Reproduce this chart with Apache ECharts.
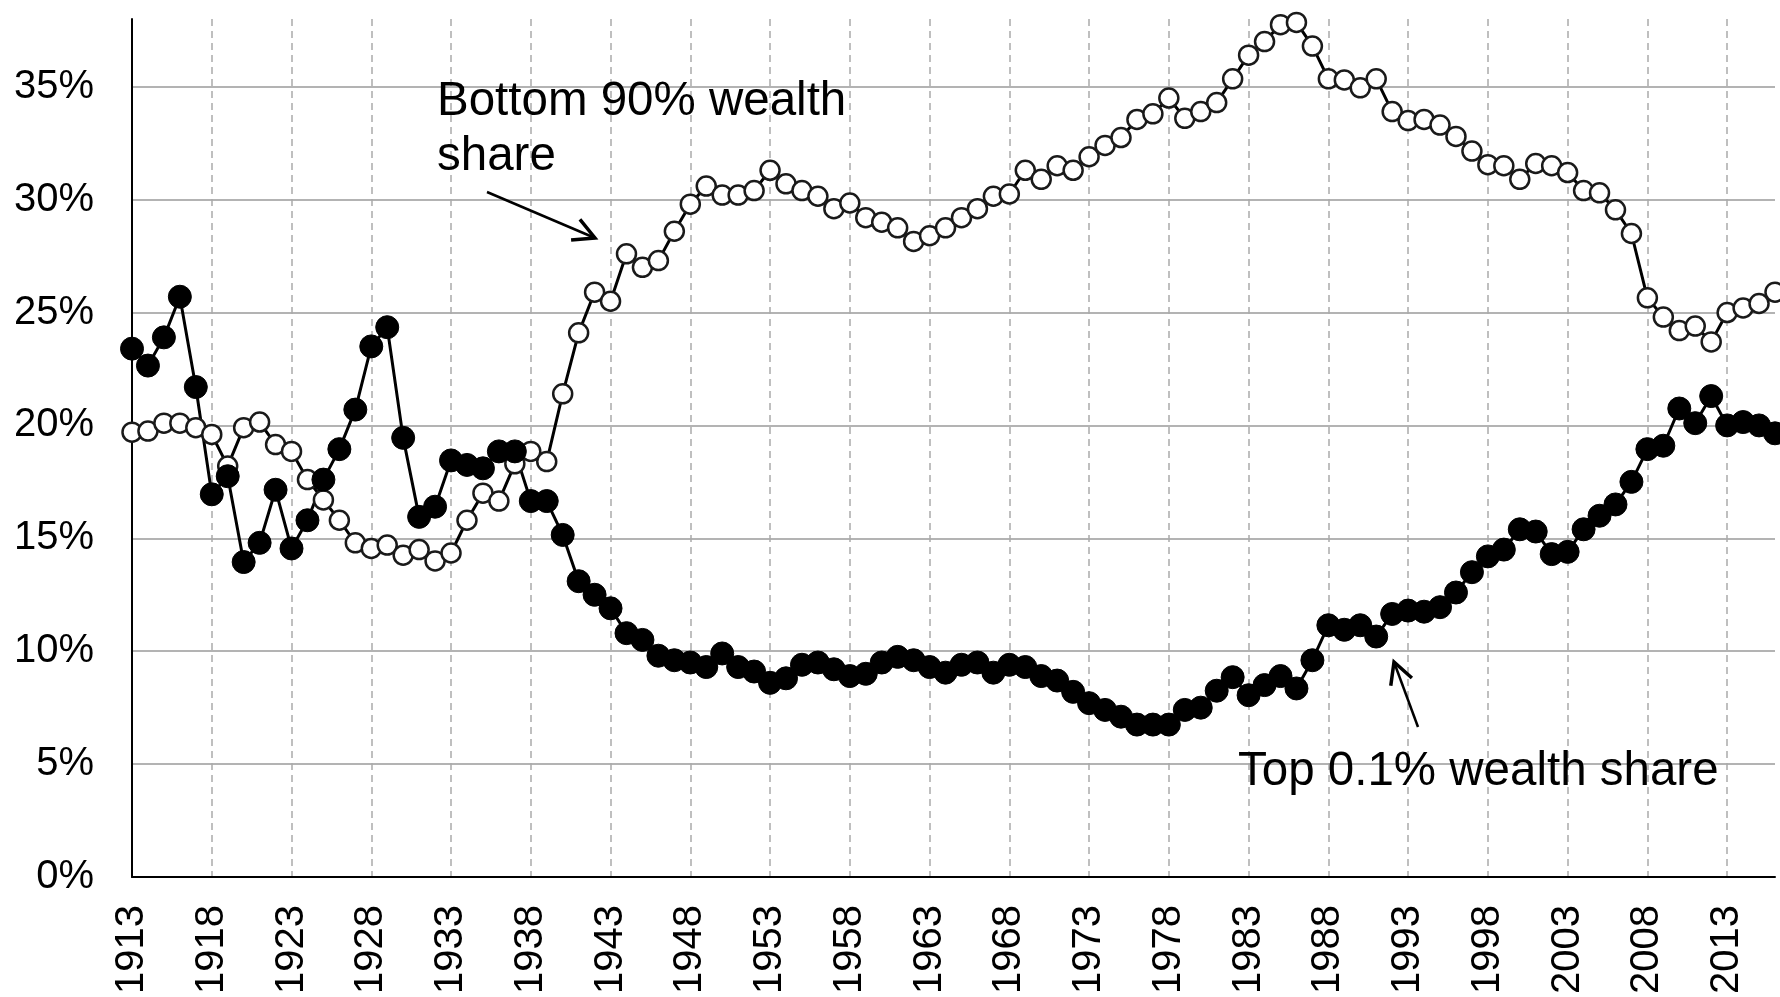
<!DOCTYPE html>
<html>
<head>
<meta charset="utf-8">
<title>Top 0.1% vs bottom 90% wealth share</title>
<script src="https://cdn.jsdelivr.net/npm/echarts@6/dist/echarts.min.js"></script>
<style>
  html, body { margin: 0; padding: 0; background: #fff; }
  #chart { width: 1780px; height: 997px; }
</style>
</head>
<body>
<div id="chart"></div>
<script>
// ─── data (share of total household wealth, %) ───────────────────────────────

// one category per year, 1913 … 2016
const years = [];
for (let y = 1913; y <= 2016; y++) years.push(String(y));

const top01Share = [
  23.4, 22.65, 23.9, 25.7, 21.7, 16.95, 17.75, 13.95, 14.8, 17.15,   // 1913-1922
  14.55, 15.8, 17.6, 18.95, 20.7, 23.5, 24.35, 19.45, 15.95, 16.4,   // 1923-1932
  18.45, 18.25, 18.1, 18.85, 18.85, 16.65, 16.65, 15.15, 13.1, 12.5, // 1933-1942
  11.9, 10.8, 10.5, 9.8, 9.6, 9.5, 9.3, 9.9, 9.3, 9.1,               // 1943-1952
  8.6, 8.8, 9.4, 9.5, 9.2, 8.9, 9.0, 9.5, 9.75, 9.6,                 // 1953-1962
  9.3, 9.05, 9.4, 9.5, 9.05, 9.4, 9.3, 8.9, 8.7, 8.2,                // 1963-1972
  7.7, 7.4, 7.1, 6.75, 6.75, 6.75, 7.4, 7.5, 8.25, 8.85,             // 1973-1982
  8.05, 8.5, 8.9, 8.35, 9.6, 11.15, 10.95, 11.15, 10.65, 11.65,      // 1983-1992
  11.8, 11.75, 11.95, 12.6, 13.5, 14.2, 14.5, 15.4, 15.3, 14.3,      // 1993-2002
  14.4, 15.4, 16.0, 16.5, 17.5, 18.95, 19.1, 20.75, 20.1, 21.3,      // 2003-2012
  20.0, 20.15, 20.0, 19.65                                           // 2013-2016
];

const bottom90Share = [
  19.7, 19.75, 20.1, 20.1, 19.9, 19.6, 18.2, 19.9, 20.15, 19.15,     // 1913-1922
  18.85, 17.6, 16.7, 15.8, 14.8, 14.55, 14.7, 14.25, 14.5, 14.0,     // 1923-1932
  14.35, 15.8, 17.0, 16.65, 18.3, 18.85, 18.4, 21.4, 24.1, 25.9,     // 1933-1942
  25.5, 27.6, 27.0, 27.3, 28.6, 29.8, 30.6, 30.2, 30.2, 30.4,        // 1943-1952
  31.3, 30.7, 30.4, 30.15, 29.6, 29.85, 29.2, 29.0, 28.75, 28.15,    // 1953-1962
  28.4, 28.75, 29.2, 29.6, 30.15, 30.25, 31.3, 30.9, 31.5, 31.3,     // 1963-1972
  31.9, 32.4, 32.75, 33.55, 33.8, 34.5, 33.6, 33.9, 34.3, 35.35,     // 1973-1982
  36.4, 37.0, 37.75, 37.85, 36.8, 35.35, 35.3, 34.95, 35.35, 33.9,   // 1983-1992
  33.5, 33.55, 33.3, 32.8, 32.15, 31.55, 31.5, 30.9, 31.6, 31.5,     // 1993-2002
  31.2, 30.4, 30.3, 29.55, 28.5, 25.65, 24.8, 24.2, 24.4, 23.7,      // 2003-2012
  25.0, 25.2, 25.4, 25.9                                             // 2013-2016
];

const yMax = 38;
const yStep = 5;

// ─── styling ────────────────────────────────────────────────────────────────

const FONT = "'Liberation Sans', Arial, Helvetica, sans-serif";

// straight arrow with an open "V" head at (x2, y2)
function arrow(x1, y1, x2, y2) {
  const len = 24, spread = 28 * Math.PI / 180;
  const back = Math.atan2(y1 - y2, x1 - x2);
  const arm = (a) => [x2 + len * Math.cos(a), y2 + len * Math.sin(a)];
  return [
    { type: 'line', z: 100, shape: { x1, y1, x2, y2 }, style: { stroke: '#000', lineWidth: 2.5 } },
    {
      type: 'polyline',
      z: 100,
      shape: { points: [arm(back + spread), [x2, y2], arm(back - spread)] },
      style: { stroke: '#000', lineWidth: 3.5, fill: null, lineJoin: 'miter' },
    },
  ];
}

function note(x, y, text) {
  return {
    type: 'text',
    z: 100,
    x,
    y,
    style: {
      text,
      font: `47.5px ${FONT}`,
      lineHeight: 55,
      fill: '#000',
      verticalAlign: 'top',
    },
  };
}

const chart = echarts.init(document.getElementById('chart'), null, { renderer: 'canvas' });

chart.setOption({
  backgroundColor: '#fff',
  animation: false,
  textStyle: { fontFamily: FONT, color: '#000' },
  grid: { left: 132, right: 5, top: 19, bottom: 120, containLabel: false },
  xAxis: {
    type: 'category',
    data: years,
    boundaryGap: false,
    axisLine: { lineStyle: { color: '#000', width: 2 } },
    axisTick: { show: false },
    axisLabel: {
      interval: 4,
      rotate: 90,
      margin: 28,
      fontSize: 40,
      color: '#000',
      fontFamily: FONT,
    },
    splitLine: {
      show: true,
      interval: 4,
      lineStyle: { color: '#ababab', width: 1.5, type: [7, 5] },
    },
  },
  yAxis: {
    type: 'value',
    min: 0,
    max: yMax,
    interval: yStep,
    axisLine: { show: true, lineStyle: { color: '#000', width: 2 } },
    axisTick: { show: false },
    axisLabel: {
      margin: 38,
      fontSize: 40,
      color: '#000',
      fontFamily: FONT,
      formatter: (v) => (v % yStep === 0 ? v + '%' : ''),
    },
    splitLine: {
      show: true,
      showMaxLine: false,
      lineStyle: { color: '#b3b3b3', width: 2 },
    },
  },
  series: [
    {
      name: 'Bottom 90% wealth share',
      type: 'line',
      data: bottom90Share,
      showAllSymbol: true,
      symbol: 'circle',
      symbolSize: 19,
      itemStyle: { color: '#fff', borderColor: '#1a1a1a', borderWidth: 2.5 },
      lineStyle: { color: '#000', width: 3 },
    },
    {
      name: 'Top 0.1% wealth share',
      type: 'line',
      data: top01Share,
      showAllSymbol: true,
      symbol: 'circle',
      symbolSize: 23,
      itemStyle: { color: '#000', borderColor: '#000', borderWidth: 1 },
      lineStyle: { color: '#000', width: 3 },
    },
  ],
  graphic: [
    note(437, 74, 'Bottom 90% wealth\nshare'),
    ...arrow(487, 192, 595, 238),
    note(1238, 744, 'Top 0.1% wealth share'),
    ...arrow(1418, 727, 1394, 662),
  ],
});
</script>
</body>
</html>
